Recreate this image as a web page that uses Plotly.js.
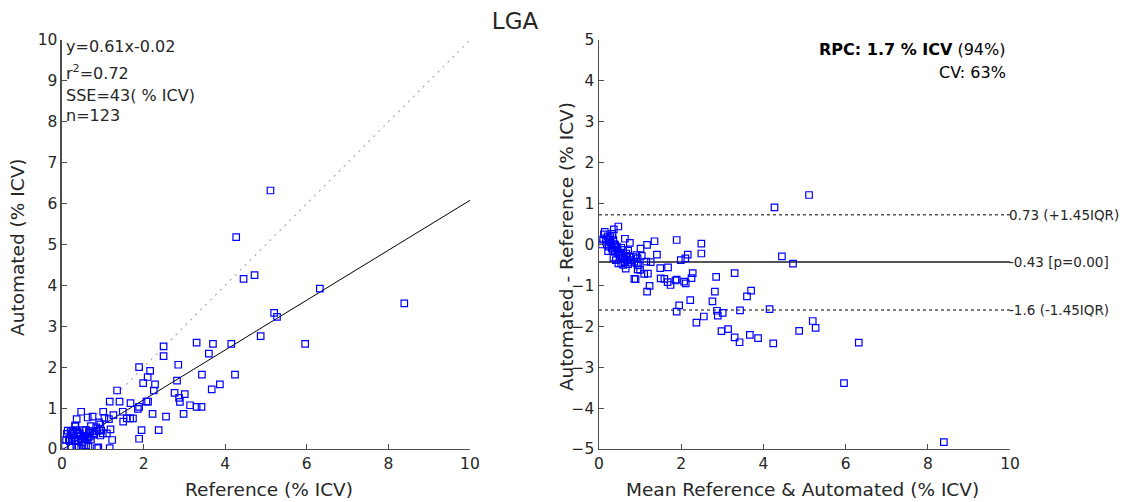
<!DOCTYPE html>
<html>
<head>
<meta charset="utf-8">
<script src="https://cdn.plot.ly/plotly-3.0.1.min.js"></script>
<style>html,body{margin:0;padding:0;background:#fff;}#chart{width:1123px;height:502px;}</style>
</head>
<body>
<div id="chart"></div>
<script>
// Reference (% ICV) and Automated (% ICV) values
const refVals = [
  5.11,4.27,4.45,4.72,6.32,8.39,5.20,5.27,4.87,5.96,4.15,3.70,3.60,3.30,3.43,4.24,3.67,3.87,3.42,
  2.49,2.49,1.89,2.85,2.16,2.10,1.99,2.28,2.82,1.35,2.25,2.76,3.01,2.87,2.89,3.14,3.30,
  1.17,1.41,1.68,2.07,1.86,1.89,2.22,2.55,2.98,0.47,1.01,1.26,1.49,1.50,1.59,1.67,1.74,1.15,
  0.36,0.63,0.75,0.91,1.95,2.37,1.89,1.17,0.86,1.23,1.19,1.10,1.00,2.11,
  0.07,0.14,0.17,0.19,0.22,0.24,0.24,0.27,0.32,0.33,0.31,0.33,0.35,0.35,0.37,0.39,0.39,0.41,
  0.43,0.43,0.47,0.47,0.50,0.54,0.54,0.55,0.58,0.59,0.59,0.62,0.63,0.65,0.68,0.68,0.71,0.71,
  0.76,0.79,0.84,0.86,0.92,0.94,0.94,0.96,1.04,0.89,
  0.10,0.12,0.21,0.28,0.30,0.45,0.52,0.66,0.74
];
const autoVals = [
  6.32,5.18,4.16,4.25,3.92,3.56,3.33,3.23,2.76,2.57,2.57,2.57,2.33,2.60,1.82,1.82,1.46,1.58,1.03,
  2.51,2.27,2.00,2.06,1.91,1.76,1.61,1.58,1.67,1.43,1.43,1.37,1.34,1.25,1.15,1.07,1.03,
  1.16,1.16,1.12,1.16,0.98,1.03,0.86,0.79,0.86,0.91,0.91,0.83,0.91,0.67,0.75,0.75,0.75,0.73,
  0.73,0.77,0.79,0.65,0.46,0.46,0.25,0.02,0.02,0.22,0.48,0.38,0.38,1.16,
  0.07,0.45,0.24,0.19,0.06,0.37,0.19,0.45,0.58,0.55,0.22,0.20,0.46,0.03,0.38,0.38,0.21,0.03,
  0.38,0.36,0.25,0.01,0.24,0.46,0.08,0.27,0.26,0.46,0.09,0.28,0.21,0.06,0.40,0.30,0.56,0.23,
  0.38,0.35,0.53,0.44,0.46,0.60,0.33,0.45,0.76,0.04,
  0.22,0.37,0.41,0.33,0.28,0.33,0.32,0.44,0.44
];
// fit and agreement statistics shown on the chart
const fitSlope = 0.61, fitIntercept = -0.02;
const fitRange = [0.03, 10];
const identityRange = [0, 10];
const meanDiff = -0.43, upperLoA = 0.73, lowerLoA = -1.6;
const baRange = [0, 10];
const xTicks = [0,2,4,6,8,10];
const yTicksLeft = [0,1,2,3,4,5,6,7,8,9,10];
const yTicksRight = [-5,-4,-3,-2,-1,0,1,2,3,4,5];

const diffVals = refVals.map((r,i) => autoVals[i] - r);
const fitY = fitRange.map(x => fitSlope*x + fitIntercept);

const FONT = 'DejaVu Sans, sans-serif';
const TXT = '#262626';
const AX = '#4d4d4d';

const markerStyle = {symbol:'square-open', size:6.5, color:'#0000ff', line:{width:1.2, color:'#0000ff'}};

const traces = [
  {x: identityRange, y: identityRange, mode:'lines', line:{color:'#b0b0b0', width:1.3, dash:'2px,5px'}, xaxis:'x', yaxis:'y', hoverinfo:'skip'},
  {x: fitRange, y: fitY, mode:'lines', line:{color:'#000', width:1}, xaxis:'x', yaxis:'y'},
  {x: refVals, y: autoVals, mode:'markers', marker: markerStyle, xaxis:'x', yaxis:'y'},
  {x: baRange, y: [upperLoA, upperLoA], mode:'lines', line:{color:'#555', width:1.5, dash:'dot'}, xaxis:'x2', yaxis:'y2'},
  {x: baRange, y: [meanDiff, meanDiff], mode:'lines', line:{color:'#555', width:2}, xaxis:'x2', yaxis:'y2'},
  {x: baRange, y: [lowerLoA, lowerLoA], mode:'lines', line:{color:'#555', width:1.5, dash:'dot'}, xaxis:'x2', yaxis:'y2'},
  {x: refVals, y: diffVals, mode:'markers', marker: markerStyle, xaxis:'x2', yaxis:'y2'}
];

const axBase = {
  showline:true, linecolor:AX, linewidth:1.5, mirror:false,
  ticks:'inside', ticklen:5, tickwidth:1, tickcolor:AX,
  showgrid:false, zeroline:false,
  tickfont:{family:FONT, size:15.5, color:TXT},
  fixedrange:true
};

const TF = {family:FONT, size:18.5, color:TXT};

const layout = {
  width:1123, height:502,
  margin:{l:0, r:0, t:0, b:0},
  paper_bgcolor:'#fff', plot_bgcolor:'#fff',
  showlegend:false,
  font:{family:FONT, color:TXT},
  title:{text:'LGA', x:0.4586, xanchor:'center', y:0.958, yanchor:'middle', font:{family:FONT, size:23, color:TXT}},
  xaxis: Object.assign({}, axBase, {domain:[0.0552,0.4185], range:[0,10], tickvals:xTicks, anchor:'y'}),
  yaxis: Object.assign({}, axBase, {domain:[0.1056,0.9203], range:[0,10], tickvals:yTicksLeft, anchor:'x'}),
  xaxis2: Object.assign({}, axBase, {domain:[0.5334,0.8994], range:[0,10], tickvals:xTicks, anchor:'y2'}),
  yaxis2: Object.assign({}, axBase, {domain:[0.1056,0.9203], range:[-5,5], tickvals:yTicksRight, anchor:'x2'}),
  annotations: [
    {xref:'paper', yref:'paper', x:0.2395, y:0.024, xanchor:'center', yanchor:'middle', showarrow:false, text:'Reference (% ICV)', font:TF},
    {xref:'paper', yref:'paper', x:0.715, y:0.024, xanchor:'center', yanchor:'middle', showarrow:false, text:'Mean Reference &amp; Automated (% ICV)', font:TF},
    {xref:'paper', yref:'paper', x:0.016, y:0.508, xanchor:'center', yanchor:'middle', textangle:-90, showarrow:false, text:'Automated (% ICV)', font:TF},
    {xref:'paper', yref:'paper', x:0.505, y:0.508, xanchor:'center', yanchor:'middle', textangle:-90, showarrow:false, text:'Automated - Reference (% ICV)', font:TF},
    {xref:'x', yref:'y', x:0.05, y:9.85, xanchor:'left', yanchor:'middle', showarrow:false, text:'y=0.61x-0.02', font:{family:FONT, size:16, color:TXT}},
    {xref:'x', yref:'y', x:0.05, y:9.2, xanchor:'left', yanchor:'middle', showarrow:false, text:'r<sup>2</sup>=0.72', font:{family:FONT, size:16, color:TXT}},
    {xref:'x', yref:'y', x:0.05, y:8.65, xanchor:'left', yanchor:'middle', showarrow:false, text:'SSE=43( % ICV)', font:{family:FONT, size:16, color:TXT}},
    {xref:'x', yref:'y', x:0.05, y:8.15, xanchor:'left', yanchor:'middle', showarrow:false, text:'n=123', font:{family:FONT, size:16, color:TXT}},
    {xref:'x2', yref:'y2', x:9.95, y:4.78, xanchor:'right', yanchor:'middle', showarrow:false, text:'<b>RPC: 1.7 % ICV</b> (94%)', font:{family:FONT, size:16, color:'#000'}},
    {xref:'x2', yref:'y2', x:9.95, y:4.2, xanchor:'right', yanchor:'middle', showarrow:false, text:'CV: 63%', font:{family:FONT, size:16, color:'#000'}},
    {xref:'x2', yref:'y2', x:10, y:upperLoA, xanchor:'left', yanchor:'middle', showarrow:false, xshift:-3, text:'0.73 (+1.45IQR)', font:{family:FONT, size:13.5, color:TXT}},
    {xref:'x2', yref:'y2', x:10, y:meanDiff, xanchor:'left', yanchor:'middle', showarrow:false, xshift:-3, text:'-0.43 [p=0.00]', font:{family:FONT, size:13.5, color:TXT}},
    {xref:'x2', yref:'y2', x:10, y:lowerLoA, xanchor:'left', yanchor:'middle', showarrow:false, xshift:-3, text:'-1.6 (-1.45IQR)', font:{family:FONT, size:13.5, color:TXT}}
  ]
};

Plotly.newPlot('chart', traces, layout, {displayModeBar:false, staticPlot:true});
</script>
</body>
</html>
